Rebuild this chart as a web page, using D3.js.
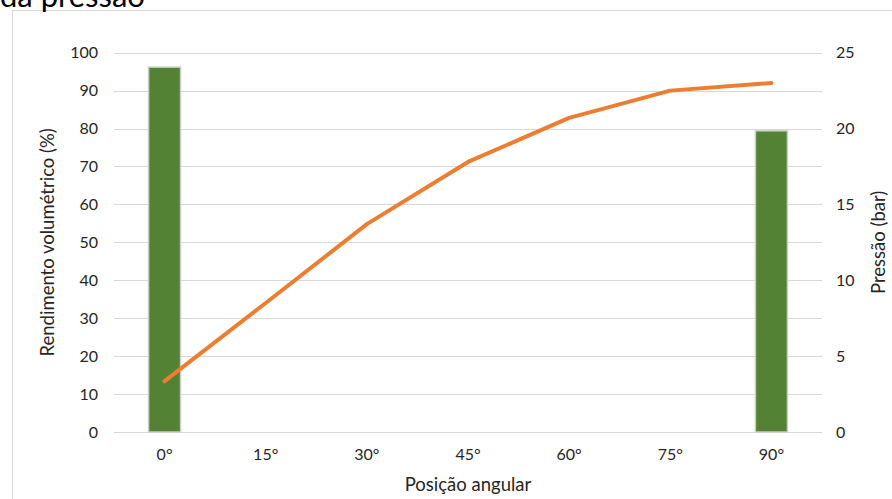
<!DOCTYPE html>
<html>
<head>
<meta charset="utf-8">
<script src="https://cdn.jsdelivr.net/npm/d3@7"></script>
<style>
  html, body { margin: 0; padding: 0; background: #fff; }
  svg { display: block; font-family: Lato, "Open Sans", sans-serif; }
</style>
</head>
<body>
<svg id="chart" width="892" height="499"></svg>
<script>
// Categories: angular position of the valve
const categories = ["0°", "15°", "30°", "45°", "60°", "75°", "90°"];
// Volumetric efficiency (%), measured only at the end positions
const rendimento = [96.2, null, null, null, null, null, 79.4];
// Pressure (bar) at each angular position
const pressao = [3.35, 8.5, 13.7, 17.8, 20.7, 22.5, 23.0];
// Axis ticks
const leftTicks = [0, 10, 20, 30, 40, 50, 60, 70, 80, 90, 100];
const rightTicks = [0, 5, 10, 15, 20, 25];

const svg = d3.select("#chart");
const margin = { left: 114, right: 70, top: 52.7, bottom: 67 };
const W = 892, H = 499;
const x0 = margin.left, x1 = W - margin.right;
const yBottom = H - margin.bottom, yTop = margin.top;

// Chart frame
svg.append("rect")
  .attr("x", 12.5).attr("y", 10.5)
  .attr("width", 900).attr("height", 600)
  .attr("fill", "none").attr("stroke", "#d9d9d9").attr("stroke-width", 1);

// Title (continues above the chart area)
svg.append("text")
  .attr("x", 0).attr("y", 7)
  .attr("font-size", 31).attr("fill", "#000")
  .text("da pressão");

const x = d3.scaleBand().domain(categories).range([x0, x1]).paddingInner(0).paddingOuter(0);
const yL = d3.scaleLinear().domain([0, 100]).range([yBottom, yTop]);
const yR = d3.scaleLinear().domain([0, 25]).range([yBottom, yTop]);

// Gridlines
svg.append("g").selectAll("line").data(leftTicks).join("line")
  .attr("x1", x0).attr("x2", x1)
  .attr("y1", d => Math.round(yL(d)) + 0.5).attr("y2", d => Math.round(yL(d)) + 0.5)
  .attr("stroke", "#d9d9d9").attr("stroke-width", 1);

// Left axis
const leftAxis = svg.append("g")
  .attr("transform", `translate(${x0 - 16},0)`)
  .call(d3.axisLeft(yL).tickValues(leftTicks).tickSize(0).tickPadding(0));
leftAxis.select(".domain").remove();
leftAxis.selectAll("text").attr("font-size", 16).attr("fill", "#262626")
  .attr("font-family", "Lato, sans-serif");

// Right axis
const rightAxis = svg.append("g")
  .attr("transform", `translate(${x1 + 14},0)`)
  .call(d3.axisRight(yR).tickValues(rightTicks).tickSize(0).tickPadding(0));
rightAxis.select(".domain").remove();
rightAxis.selectAll("text").attr("font-size", 16).attr("fill", "#262626")
  .attr("font-family", "Lato, sans-serif");

// Bottom axis labels
const bottomAxis = svg.append("g")
  .attr("transform", `translate(0,${yBottom + 17})`)
  .call(d3.axisBottom(x).tickSize(0).tickPadding(0));
bottomAxis.select(".domain").remove();
bottomAxis.selectAll("text").attr("font-size", 16).attr("fill", "#262626")
  .attr("font-family", "Lato, sans-serif");

// Bars
const barW = 32;
svg.append("g").selectAll("rect")
  .data(categories.map((c, i) => ({ c, v: rendimento[i] })).filter(d => d.v != null))
  .join("rect")
  .attr("x", d => x(d.c) + x.bandwidth() / 2 - barW / 2)
  .attr("y", d => yL(d.v))
  .attr("width", barW)
  .attr("height", d => yL(0) - yL(d.v))
  .attr("fill", "#548235")
  .attr("stroke", "#c9cfc4").attr("stroke-width", 1.5);

// Pressure line
const line = d3.line()
  .x((d, i) => x(categories[i]) + x.bandwidth() / 2)
  .y(d => yR(d));
svg.append("path")
  .datum(pressao)
  .attr("d", line)
  .attr("fill", "none")
  .attr("stroke", "#ed7d31")
  .attr("stroke-width", 4)
  .attr("stroke-linecap", "round")
  .attr("stroke-linejoin", "round");

// Axis titles
svg.append("text")
  .attr("transform", `translate(54,${(yTop + yBottom) / 2}) rotate(-90)`)
  .attr("text-anchor", "middle")
  .attr("font-size", 18.5).attr("fill", "#262626")
  .text("Rendimento volumétrico (%)");

svg.append("text")
  .attr("transform", `translate(885,${(yTop + yBottom) / 2}) rotate(-90)`)
  .attr("text-anchor", "middle")
  .attr("font-size", 18.5).attr("fill", "#262626")
  .text("Pressão (bar)");

svg.append("text")
  .attr("x", (x0 + x1) / 2).attr("y", 491)
  .attr("text-anchor", "middle")
  .attr("font-size", 18.5).attr("fill", "#262626")
  .text("Posição angular");
</script>
</body>
</html>
